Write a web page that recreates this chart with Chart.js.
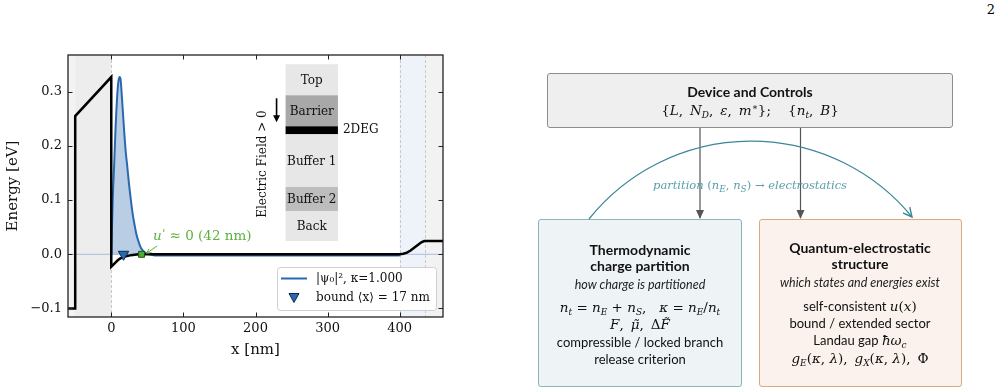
<!DOCTYPE html>
<html><head><meta charset="utf-8">
<script src="https://cdn.jsdelivr.net/npm/chart.js@4.4.1/dist/chart.umd.min.js"></script>
<style>
html,body{margin:0;padding:0;background:#fff;}
#page{position:relative;width:1001px;height:388px;overflow:hidden;background:#fff;}
#chartWrap{position:absolute;left:0;top:0;width:470px;height:388px;}
.box{position:absolute;box-sizing:border-box;border-radius:3px;}
.t{position:absolute;white-space:nowrap;transform:translate(-50%,-50%);font-family:"Lato","DejaVu Sans",sans-serif;color:#111;}
.b{font-weight:bold;font-size:14px;}
.r{font-size:13px;}
.i{font-style:italic;font-size:12.5px;color:#222;}
.m{font-family:"DejaVu Serif",serif;font-size:13.5px;}
.m i{font-style:italic;}
.m sub{font-size:9px;vertical-align:-3px;line-height:0;}
.m sup{font-size:9px;line-height:0;}
#pg{position:absolute;right:6px;top:2px;font-family:"DejaVu Serif",serif;font-size:13px;}
</style></head>
<body><div id="page">
<div id="chartWrap"><canvas id="c" width="470" height="388"></canvas></div>
<div id="pg">2</div>

<div class="box" style="left:547px;top:73px;width:406px;height:55px;background:#efefef;border:1px solid #8d8d8d;"></div>
<div class="box" style="left:538px;top:219px;width:204px;height:168px;background:#eef3f5;border:1px solid #88b7c1;"></div>
<div class="box" style="left:759px;top:219px;width:203px;height:168px;background:#fbf2ed;border:1px solid #dca978;"></div>

<svg style="position:absolute;left:0;top:0" width="1001" height="388">
  <defs>
    <marker id="ga2" markerWidth="9" markerHeight="9" refX="8" refY="4.5" orient="auto" markerUnits="userSpaceOnUse">
      <path d="M0,0.5 L9,4.5 L0,8.5 Z" fill="#555"/>
    </marker>
    <marker id="ta2" markerWidth="10" markerHeight="10" refX="9" refY="5" orient="auto" markerUnits="userSpaceOnUse">
      <path d="M0,0.5 L9,5 L0,9.5" fill="none" stroke="#3a8796" stroke-width="1.4"/>
    </marker>
  </defs>
  <line x1="700" y1="128" x2="700" y2="218" stroke="#555" stroke-width="1.2" marker-end="url(#ga2)"/>
  <line x1="800.5" y1="128" x2="800.5" y2="218" stroke="#555" stroke-width="1.2" marker-end="url(#ga2)"/>
  <path d="M 589 219 A 208 208 0 0 1 912 217" fill="none" stroke="#3a8796" stroke-width="1.2" marker-end="url(#ta2)"/>
</svg>

<div class="t b" style="left:750px;top:91px;">Device and Controls</div>
<div class="t m" style="left:750px;top:109.5px;">{<i>L</i>, &thinsp;<i>N</i><sub><i>D</i></sub>, &thinsp;<i>ε</i>, &thinsp;<i>m</i><sup>∗</sup>}; &nbsp;&nbsp;&nbsp;{<i>n</i><sub><i>t</i></sub>, &thinsp;<i>B</i>}</div>

<div class="t m" style="left:750px;top:184.5px;font-size:11.5px;color:#5a9faa;"><i>partition</i> (<i>n</i><sub><i>E</i></sub>, <i>n</i><sub><i>S</i></sub>) → <i>electrostatics</i></div>

<div class="t b" style="left:640px;top:249px;">Thermodynamic</div>
<div class="t b" style="left:640px;top:264.5px;">charge partition</div>
<div class="t i" style="left:640px;top:284px;">how charge is partitioned</div>
<div class="t m" style="left:640px;top:306.5px;"><i>n</i><sub><i>t</i></sub> = <i>n</i><sub><i>E</i></sub> + <i>n</i><sub><i>S</i></sub>, &nbsp; <i>κ</i> = <i>n</i><sub><i>E</i></sub>/<i>n</i><sub><i>t</i></sub></div>
<div class="t m" style="left:640px;top:323.5px;"><i>F</i>, &thinsp;<i>μ̃</i>, &thinsp;Δ<i>F̃</i></div>
<div class="t r" style="left:640px;top:341.5px;">compressible / locked branch</div>
<div class="t r" style="left:640px;top:359px;">release criterion</div>

<div class="t b" style="left:860px;top:246.5px;">Quantum-electrostatic</div>
<div class="t b" style="left:860px;top:262.5px;">structure</div>
<div class="t i" style="left:860px;top:282px;">which states and energies exist</div>
<div class="t r" style="left:860px;top:305.5px;">self-consistent <span class="m"><i>u</i>(<i>x</i>)</span></div>
<div class="t r" style="left:860px;top:323px;">bound / extended sector</div>
<div class="t r" style="left:860px;top:340px;">Landau gap <span class="m"><i>ħω</i><sub><i>c</i></sub></span></div>
<div class="t m" style="left:860px;top:357.5px;"><i>g</i><sub><i>E</i></sub>(<i>κ</i>, <i>λ</i>), &thinsp;<i>g</i><sub><i>X</i></sub>(<i>κ</i>, <i>λ</i>), &thinsp;Φ</div>
</div>

<script>
// ---------------- data ----------------
const potX = [-60, -50, -50, 0, 0, 3, 6, 9, 12, 15, 18, 22, 26, 30, 35, 42, 400, 405, 410, 415, 420, 425, 430, 434, 460];
const potY = [-0.1, -0.1, 0.255, 0.327, -0.023, -0.019, -0.015, -0.011, -0.008, -0.006, -0.0045, -0.003, -0.002, -0.0012, -0.0005, 0, 0, 0.001, 0.003, 0.007, 0.012, 0.017, 0.022, 0.0245, 0.0245];

const psiX = [0, 1, 2, 3, 4, 5, 6, 7, 8, 9, 10, 11.6, 13, 14, 16, 18, 20, 22.2, 24.5, 26.9, 29.5, 32.4, 35, 38, 41, 43.5, 47, 52, 60, 400];
const psiY = [0, 0.05, 0.1, 0.135, 0.165, 0.2, 0.235, 0.263, 0.288, 0.307, 0.32, 0.327, 0.322, 0.305, 0.265, 0.225, 0.19, 0.162, 0.131, 0.103, 0.076, 0.0535, 0.036, 0.0227, 0.012, 0.0074, 0.003, 0.0005, -0.002, -0.002];

const boundX = [17], boundY = [0];
const uPrimeX = [42], uPrimeY = [0];
const baseX = [-60, 460], baseY = [0, 0];

const xTicks = [0, 100, 200, 300, 400];
const xTickLabels = ['0', '100', '200', '300', '400'];
const yTicks = [-0.1, 0.0, 0.1, 0.2, 0.3];
const yTickLabels = ['\u22120.1', '0.0', '0.1', '0.2', '0.3'];

const bandFrom = [-60, -50, 400, 435];
const bandTo   = [-50, 0, 435, 460];
const dashedAt = [0, 400, 435];

const layerNames = ['Top', 'Barrier', '2DEG', 'Buffer 1', 'Buffer 2', 'Back'];
const layerEdges = [0.3506, 0.2934, 0.2362, 0.2214, 0.1242, 0.0793, 0.0245];
const insetX = [241.7, 314.3];

const legendLabels = ['|\u03c8\u2080|\u00b2, \u03ba=1.000', 'bound \u27e8x\u27e9 = 17 nm'];

// ---------------- styles ----------------
const bandColors = ['#f3f3f3', '#ededed', '#eef3f9', '#f2f2f2'];
const layerColors = ['#e7e7e7', '#a8a8a8', '#000000', '#e7e7e7', '#bdbdbd', '#e7e7e7'];
const SERIF = '"DejaVu Serif", serif';
const BLUE = '#2a68b0';

const zip = (xs, ys) => xs.map((x, i) => ({x, y: ys[i]}));

const bgPlugin = {
  id: 'bg',
  beforeDatasetsDraw(chart) {
    const {ctx, chartArea: a, scales: {x, y}} = chart;
    ctx.save();
    ctx.beginPath(); ctx.rect(a.left, a.top, a.right - a.left, a.bottom - a.top); ctx.clip();
    bandFrom.forEach((f, i) => {
      const x0 = x.getPixelForValue(f), x1 = x.getPixelForValue(bandTo[i]);
      ctx.fillStyle = bandColors[i];
      ctx.fillRect(x0, a.top, x1 - x0, a.bottom - a.top);
    });
    ctx.strokeStyle = '#c8c8c8'; ctx.lineWidth = 1; ctx.setLineDash([3, 2]);
    dashedAt.forEach(v => {
      const px = Math.round(x.getPixelForValue(v)) + 0.5;
      ctx.beginPath(); ctx.moveTo(px, a.top); ctx.lineTo(px, a.bottom); ctx.stroke();
    });
    ctx.restore();
  },
  afterDatasetsDraw(chart) {
    const {ctx, chartArea: a, scales: {x, y}} = chart;
    ctx.save();
    // inset layer stack
    const lx0 = x.getPixelForValue(insetX[0]), lx1 = x.getPixelForValue(insetX[1]);
    layerNames.forEach((n, i) => {
      const y0 = y.getPixelForValue(layerEdges[i]), y1 = y.getPixelForValue(layerEdges[i + 1]);
      ctx.fillStyle = layerColors[i];
      ctx.fillRect(lx0, y0, lx1 - lx0, y1 - y0);
      ctx.font = '12px ' + SERIF; ctx.fillStyle = '#111';
      if (n === '2DEG') {
        ctx.textAlign = 'left'; ctx.textBaseline = 'middle';
        ctx.fillText(n, lx1 + 5, (y0 + y1) / 2);
      } else {
        ctx.textAlign = 'center'; ctx.textBaseline = 'middle';
        ctx.fillText(n, (lx0 + lx1) / 2, (y0 + y1) / 2 + 1);
      }
    });
    // field arrow + rotated label
    const ax = lx0 - 9;
    const ay0 = y.getPixelForValue(layerEdges[1]) + 3, ay1 = y.getPixelForValue(layerEdges[2]) - 4;
    ctx.strokeStyle = '#000'; ctx.fillStyle = '#000'; ctx.lineWidth = 1.6;
    ctx.beginPath(); ctx.moveTo(ax, ay0); ctx.lineTo(ax, ay1 - 5); ctx.stroke();
    ctx.beginPath(); ctx.moveTo(ax - 3.5, ay1 - 7); ctx.lineTo(ax + 3.5, ay1 - 7); ctx.lineTo(ax, ay1); ctx.closePath(); ctx.fill();
    ctx.save();
    ctx.translate(lx0 - 23, 164); ctx.rotate(-Math.PI / 2);
    ctx.font = '12px ' + SERIF; ctx.textAlign = 'center'; ctx.textBaseline = 'middle'; ctx.fillStyle = '#111';
    ctx.fillText('Electric Field > 0', 0, 0);
    ctx.restore();
    // green annotation
    const tx = x.getPixelForValue(58), ty = y.getPixelForValue(0.032);
    ctx.fillStyle = '#5cb03e'; ctx.textAlign = 'left'; ctx.textBaseline = 'middle';
    ctx.font = 'italic 13.5px ' + SERIF; ctx.fillText('u', tx, ty);
    let w = ctx.measureText('u').width;
    ctx.font = '11px ' + SERIF; ctx.fillText("'", tx + w + 0.5, ty - 3);
    w += ctx.measureText("'").width + 0.5;
    ctx.font = '13.5px ' + SERIF; ctx.fillText(' \u2248 0 (42 nm)', tx + w, ty);
    const hx = x.getPixelForValue(uPrimeX[0]) + 5, hy = y.getPixelForValue(uPrimeY[0]) - 1;
    const sx = tx + 4, sy = ty + 9;
    ctx.strokeStyle = '#5cb03e'; ctx.lineWidth = 1;
    ctx.beginPath(); ctx.moveTo(sx, sy); ctx.lineTo(hx, hy); ctx.stroke();
    const ang = Math.atan2(hy - sy, hx - sx);
    ctx.beginPath();
    ctx.moveTo(hx - 5 * Math.cos(ang - 0.45), hy - 5 * Math.sin(ang - 0.45));
    ctx.lineTo(hx, hy);
    ctx.lineTo(hx - 5 * Math.cos(ang + 0.45), hy - 5 * Math.sin(ang + 0.45));
    ctx.stroke();
    ctx.restore();
  },
  afterDraw(chart) {
    const {ctx, chartArea: a, scales: {x, y}} = chart;
    ctx.save();
    // legend
    const L = {x0: a.right - 166, y0: a.bottom - 50, w: 159, h: 43};
    ctx.fillStyle = 'rgba(255,255,255,0.9)'; ctx.strokeStyle = '#d0d0d0'; ctx.lineWidth = 1;
    ctx.beginPath(); ctx.roundRect(L.x0 + 0.5, L.y0 + 0.5, L.w, L.h, 3); ctx.fill(); ctx.stroke();
    ctx.strokeStyle = BLUE; ctx.lineWidth = 2;
    const r1 = L.y0 + 11.5, r2 = L.y0 + 30.5;
    ctx.beginPath(); ctx.moveTo(L.x0 + 4, r1); ctx.lineTo(L.x0 + 30, r1); ctx.stroke();
    ctx.fillStyle = BLUE; ctx.strokeStyle = '#0d2a50'; ctx.lineWidth = 1;
    const cx = L.x0 + 17;
    ctx.beginPath(); ctx.moveTo(cx - 5, r2 - 4); ctx.lineTo(cx + 5, r2 - 4); ctx.lineTo(cx, r2 + 5); ctx.closePath(); ctx.fill(); ctx.stroke();
    ctx.fillStyle = '#111'; ctx.font = '12px ' + SERIF; ctx.textAlign = 'left'; ctx.textBaseline = 'middle';
    ctx.fillText(legendLabels[0], L.x0 + 39, r1);
    ctx.fillText(legendLabels[1], L.x0 + 39, r2);
    // frame
    ctx.strokeStyle = '#222'; ctx.lineWidth = 1.3;
    ctx.strokeRect(a.left, a.top, a.right - a.left, a.bottom - a.top);
    // inward ticks
    ctx.lineWidth = 1;
    xTicks.forEach(v => {
      const px = Math.round(x.getPixelForValue(v)) + 0.5;
      ctx.beginPath(); ctx.moveTo(px, a.bottom); ctx.lineTo(px, a.bottom - 4.5);
      ctx.moveTo(px, a.top); ctx.lineTo(px, a.top + 4.5); ctx.stroke();
    });
    yTicks.forEach(v => {
      const py = Math.round(y.getPixelForValue(v)) + 0.5;
      ctx.beginPath(); ctx.moveTo(a.left, py); ctx.lineTo(a.left + 4.5, py);
      ctx.moveTo(a.right, py); ctx.lineTo(a.right - 4.5, py); ctx.stroke();
    });
    ctx.restore();
  }
};

new Chart(document.getElementById('c'), {
  type: 'line',
  data: {
    datasets: [
      {label: 'baseline', data: zip(baseX, baseY), borderColor: '#a9bfdb', borderWidth: 1, pointRadius: 0, order: 5},
      {label: 'psi', data: zip(psiX, psiY), borderColor: BLUE, borderWidth: 2, pointRadius: 0,
       cubicInterpolationMode: 'monotone', fill: {value: 0}, backgroundColor: 'rgba(42,104,176,0.33)', order: 4},
      {label: 'potential', data: zip(potX, potY), borderColor: '#000', borderWidth: 2.5, pointRadius: 0, tension: 0, order: 3, borderJoinStyle: 'miter'},
      {label: 'bound', data: zip(boundX, boundY), showLine: false, pointStyle: 'triangle', rotation: 180, pointRadius: 6,
       backgroundColor: BLUE, borderColor: '#0d2a50', borderWidth: 1, order: 2},
      {label: 'uprime', data: zip(uPrimeX, uPrimeY), showLine: false, pointStyle: 'rect', pointRadius: 4.2,
       backgroundColor: '#4caf35', borderColor: '#1d5210', borderWidth: 1, order: 1}
    ]
  },
  options: {
    responsive: false, animation: false, events: [],
    layout: {padding: {left: 0, right: 27, top: 55, bottom: 0}},
    plugins: {legend: {display: false}, tooltip: {enabled: false}},
    scales: {
      x: {
        type: 'linear', min: -60, max: 460,
        afterBuildTicks: s => { s.ticks = xTicks.map(v => ({value: v})); },
        afterFit: s => { s.height = 71; },
        grid: {display: false, drawTicks: false}, border: {display: false},
        ticks: {padding: 4, color: '#111', font: {family: SERIF, size: 13}, maxRotation: 0,
                callback: (v, i) => xTickLabels[i]},
        title: {display: true, text: 'x [nm]', color: '#111', font: {family: SERIF, size: 15}, padding: {top: 0, bottom: 29}}
      },
      y: {
        type: 'linear', min: -0.1157, max: 0.3677,
        afterBuildTicks: s => { s.ticks = yTicks.map(v => ({value: v})); },
        afterFit: s => { s.width = 68; },
        grid: {display: false, drawTicks: false}, border: {display: false},
        ticks: {padding: 6, color: '#111', font: {family: SERIF, size: 13},
                callback: (v, i) => yTickLabels[i]},
        title: {display: true, text: 'Energy [eV]', color: '#111', font: {family: SERIF, size: 15}, padding: {top: 4, bottom: 0}}
      }
    }
  },
  plugins: [bgPlugin]
});
</script>
</body></html>
